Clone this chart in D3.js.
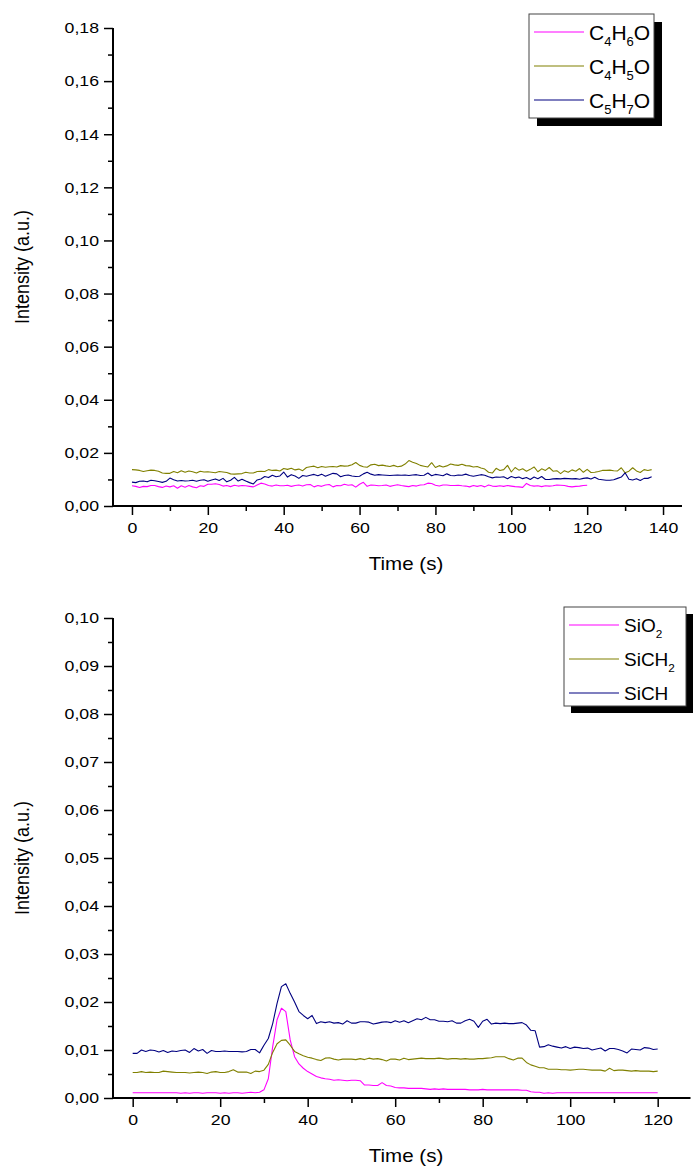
<!DOCTYPE html>
<html>
<head>
<meta charset="utf-8">
<script src="https://cdn.jsdelivr.net/npm/d3@7"></script>
<style>
  html, body { margin: 0; padding: 0; background: #fff; }
  svg { display: block; font-family: "Liberation Sans", Arial, sans-serif; }
</style>
</head>
<body>
<svg id="chart" width="696" height="1171"></svg>
<script>
// ---- Upper panel: C4H6O, C4H5O, C5H7O (1 s sampling) ----
const topC4H6O = [
  .0076,.0074,.0070,.0074,.0073,.0077,.0077,.0073,.0070,.0075,
  .0072,.0076,.0067,.0076,.0071,.0077,.0072,.0069,.0076,.0074,
  .0082,.0082,.0084,.0081,.0075,.0077,.0073,.0078,.0075,.0077,
  .0076,.0074,.0072,.0079,.0086,.0083,.0077,.0075,.0079,.0076,
  .0076,.0078,.0074,.0077,.0079,.0075,.0080,.0081,.0072,.0077,
  .0074,.0079,.0081,.0072,.0077,.0076,.0082,.0078,.0080,.0071,
  .0082,.0089,.0074,.0079,.0078,.0076,.0077,.0079,.0074,.0077,
  .0080,.0077,.0075,.0073,.0077,.0075,.0079,.0080,.0086,.0085,
  .0078,.0075,.0079,.0079,.0077,.0077,.0078,.0076,.0075,.0072,
  .0077,.0074,.0077,.0072,.0079,.0075,.0074,.0076,.0074,.0077,
  .0075,.0073,.0072,.0070,.0085,.0077,.0075,.0076,.0073,.0076,
  .0075,.0076,.0079,.0078,.0077,.0074,.0072,.0074,.0075,.0077,
  .0078
];
const topC4H5O = [
  .0137,.0136,.0134,.0130,.0133,.0135,.0134,.0131,.0124,.0123,
  .0123,.0130,.0125,.0133,.0127,.0132,.0129,.0124,.0131,.0128,
  .0129,.0127,.0125,.0130,.0128,.0126,.0121,.0120,.0121,.0122,
  .0127,.0124,.0124,.0130,.0131,.0130,.0137,.0134,.0135,.0132,
  .0141,.0138,.0142,.0136,.0139,.0133,.0145,.0148,.0150,.0144,
  .0149,.0146,.0148,.0149,.0147,.0152,.0150,.0151,.0155,.0164,
  .0153,.0148,.0146,.0155,.0157,.0152,.0154,.0151,.0149,.0153,
  .0148,.0150,.0158,.0171,.0165,.0160,.0153,.0150,.0147,.0163,
  .0145,.0152,.0147,.0151,.0158,.0155,.0153,.0157,.0152,.0151,
  .0147,.0149,.0143,.0139,.0127,.0124,.0142,.0134,.0137,.0153,
  .0128,.0145,.0135,.0140,.0131,.0138,.0147,.0129,.0140,.0134,
  .0145,.0131,.0133,.0122,.0133,.0127,.0136,.0131,.0141,.0127,
  .0138,.0126,.0127,.0130,.0134,.0134,.0135,.0133,.0132,.0144,
  .0125,.0131,.0144,.0132,.0126,.0137,.0134,.0137
];
const topC5H7O = [
  .0090,.0088,.0093,.0094,.0091,.0097,.0095,.0092,.0089,.0093,
  .0105,.0099,.0094,.0096,.0094,.0095,.0097,.0093,.0097,.0099,
  .0093,.0098,.0102,.0096,.0104,.0091,.0097,.0108,.0094,.0101,
  .0094,.0088,.0083,.0098,.0102,.0111,.0107,.0116,.0110,.0113,
  .0128,.0109,.0118,.0113,.0104,.0115,.0112,.0116,.0119,.0114,
  .0120,.0112,.0118,.0123,.0121,.0110,.0115,.0117,.0113,.0111,
  .0112,.0121,.0127,.0120,.0116,.0118,.0117,.0116,.0115,.0116,
  .0117,.0116,.0117,.0115,.0117,.0118,.0115,.0116,.0124,.0114,
  .0119,.0117,.0114,.0121,.0115,.0114,.0117,.0116,.0120,.0115,
  .0112,.0115,.0118,.0116,.0110,.0106,.0109,.0108,.0110,.0103,
  .0111,.0106,.0109,.0103,.0107,.0100,.0109,.0103,.0111,.0100,
  .0100,.0102,.0103,.0102,.0104,.0103,.0102,.0103,.0101,.0104,
  .0106,.0102,.0108,.0101,.0099,.0097,.0097,.0099,.0104,.0109,
  .0125,.0101,.0098,.0103,.0096,.0104,.0104,.0110
];

// ---- Lower panel: SiO2, SiCH2, SiCH (1 s sampling) ----
const botSiO2 = [
  .0011,.0011,.0011,.0011,.0011,.0011,.0011,.0011,.0011,.0011,
  .0011,.0010,.0011,.0010,.0011,.0011,.0010,.0011,.0011,.0011,
  .0010,.0011,.0010,.0011,.0011,.0010,.0011,.0012,.0011,.0012,
  .0017,.0040,.0107,.0163,.0187,.0180,.0121,.0086,.0071,.0062,
  .0055,.0050,.0045,.0042,.0040,.0039,.0037,.0038,.0037,.0036,
  .0037,.0037,.0036,.0027,.0027,.0026,.0026,.0032,.0026,.0025,
  .0022,.0021,.0021,.0020,.0020,.0020,.0020,.0019,.0018,.0019,
  .0018,.0019,.0018,.0018,.0018,.0018,.0018,.0017,.0017,.0017,
  .0018,.0017,.0017,.0017,.0017,.0017,.0017,.0017,.0017,.0016,
  .0016,.0013,.0012,.0012,.0010,.0011,.0010,.0011,.0011,.0011,
  .0011,.0011,.0011,.0011,.0011,.0011,.0011,.0011,.0011,.0011,
  .0011,.0011,.0011,.0011,.0011,.0011,.0011,.0011,.0011,.0011,
  .0011
];
const botSiCH2 = [
  .0053,.0053,.0055,.0053,.0054,.0053,.0053,.0056,.0055,.0054,
  .0053,.0053,.0053,.0052,.0053,.0054,.0053,.0051,.0054,.0055,
  .0053,.0053,.0055,.0059,.0054,.0054,.0054,.0051,.0056,.0055,
  .0058,.0070,.0095,.0113,.0120,.0121,.0110,.0097,.0092,.0088,
  .0085,.0083,.0080,.0078,.0083,.0084,.0081,.0079,.0081,.0081,
  .0081,.0080,.0082,.0080,.0083,.0081,.0082,.0080,.0077,.0081,
  .0081,.0079,.0083,.0080,.0081,.0082,.0083,.0082,.0082,.0082,
  .0083,.0082,.0081,.0082,.0082,.0081,.0082,.0081,.0081,.0082,
  .0082,.0083,.0084,.0086,.0086,.0086,.0082,.0079,.0083,.0083,
  .0074,.0069,.0066,.0063,.0063,.0060,.0060,.0060,.0059,.0059,
  .0058,.0059,.0060,.0060,.0059,.0058,.0058,.0058,.0056,.0062,
  .0057,.0058,.0058,.0057,.0056,.0057,.0056,.0056,.0056,.0055,
  .0056
];
const botSiCH = [
  .0093,.0093,.0100,.0097,.0100,.0099,.0096,.0099,.0095,.0098,
  .0097,.0099,.0100,.0095,.0103,.0098,.0101,.0093,.0099,.0097,
  .0097,.0098,.0097,.0097,.0097,.0096,.0097,.0101,.0101,.0094,
  .0110,.0124,.0155,.0197,.0232,.0238,.0218,.0200,.0180,.0172,
  .0165,.0172,.0155,.0159,.0157,.0159,.0156,.0157,.0154,.0161,
  .0156,.0156,.0159,.0159,.0158,.0154,.0156,.0158,.0159,.0157,
  .0161,.0158,.0161,.0157,.0161,.0165,.0163,.0168,.0163,.0163,
  .0160,.0160,.0159,.0161,.0156,.0156,.0161,.0164,.0160,.0147,
  .0160,.0164,.0154,.0156,.0155,.0156,.0155,.0155,.0156,.0157,
  .0152,.0141,.0140,.0106,.0107,.0111,.0108,.0106,.0104,.0107,
  .0103,.0106,.0105,.0103,.0104,.0100,.0102,.0104,.0098,.0103,
  .0103,.0101,.0098,.0094,.0102,.0101,.0100,.0105,.0104,.0101,
  .0102
];

// Tick values
const topXTicks = [0, 20, 40, 60, 80, 100, 120, 140];
const topYTicks = [0, 0.02, 0.04, 0.06, 0.08, 0.10, 0.12, 0.14, 0.16, 0.18];
const botXTicks = [0, 20, 40, 60, 80, 100, 120];
const botYTicks = [0, 0.01, 0.02, 0.03, 0.04, 0.05, 0.06, 0.07, 0.08, 0.09, 0.10];

const MAGENTA = "#ff00ff", OLIVE = "#808000", NAVY = "#000080";
const TICK_STRETCH = 1.18;   // axis lettering is a little wider than plain Arial

const svg = d3.select("#chart");
const comma = d3.formatLocale({decimal: ",", thousands: ".", grouping: [3], currency: ["", ""]});
const fmtY = comma.format(".2f");

// widen a text element horizontally about its own anchor point
function stretch(sel, k, ax) {
  sel.attr("transform", function () {
    const x = ax != null ? ax : +(this.getAttribute("x") || 0);
    return `translate(${x},0) scale(${k},1) translate(${-x},0)`;
  });
}

function panel(cfg) {
  const g = svg.append("g");
  const x = d3.scaleLinear().domain(cfg.xDomain).range([cfg.left, cfg.right]);
  const y = d3.scaleLinear().domain(cfg.yDomain).range([cfg.bottom, cfg.top]);

  // series lines
  const line = d3.line().x((d, i) => x(i)).y(d => y(d));
  cfg.series.forEach(s => {
    g.append("path").datum(s.values)
      .attr("fill", "none").attr("stroke", s.color)
      .attr("stroke-width", 1.1).attr("stroke-linejoin", "round")
      .attr("d", line);
  });

  // minor ticks (unlabelled)
  const xMinor = g.append("g").attr("transform", `translate(0,${cfg.bottom})`)
    .call(d3.axisBottom(x).tickValues(cfg.xMinor).tickSize(5));
  const yMinor = g.append("g").attr("transform", `translate(${cfg.left},0)`)
    .call(d3.axisLeft(y).tickValues(cfg.yMinor).tickSize(5));
  [xMinor, yMinor].forEach(a => {
    a.select(".domain").remove();
    a.selectAll("text").remove();
    a.selectAll("line").attr("stroke", "#000").attr("stroke-width", 1.5);
  });

  // major axes
  const xAxis = g.append("g").attr("transform", `translate(0,${cfg.bottom})`)
    .call(d3.axisBottom(x).tickValues(cfg.xTicks).tickSize(9).tickPadding(7).tickFormat(d3.format("d")));
  const yAxis = g.append("g").attr("transform", `translate(${cfg.left},0)`)
    .call(d3.axisLeft(y).tickValues(cfg.yTicks).tickSize(9).tickPadding(5).tickFormat(fmtY));
  [xAxis, yAxis].forEach(a => {
    a.select(".domain").remove();
    a.selectAll("line").attr("stroke", "#000").attr("stroke-width", 1.5);
    a.selectAll("text").attr("fill", "#000").style("font-size", "15px")
      .style("font-family", "'Liberation Sans', Arial, sans-serif");
  });
  stretch(xAxis.selectAll("text"), TICK_STRETCH, 0);
  stretch(yAxis.selectAll("text"), TICK_STRETCH, -14);

  g.append("line").attr("x1", cfg.left).attr("x2", cfg.right)
    .attr("y1", cfg.bottom).attr("y2", cfg.bottom)
    .attr("stroke", "#000").attr("stroke-width", 2);
  g.append("line").attr("x1", cfg.left).attr("x2", cfg.left)
    .attr("y1", cfg.top).attr("y2", cfg.bottom + 1)
    .attr("stroke", "#000").attr("stroke-width", 2);

  // axis titles
  const xt = g.append("text").attr("x", 406).attr("y", cfg.bottom + 64)
    .attr("text-anchor", "middle").style("font-size", "18px").text("Time (s)");
  stretch(xt, 1.14);
  g.append("text")
    .attr("transform", `translate(29,${(cfg.top + cfg.bottom) / 2}) rotate(-90) scale(1,1.12)`)
    .attr("text-anchor", "middle").style("font-size", "18px").text("Intensity (a.u.)");

  // legend with drop shadow
  const L = cfg.legend;
  g.append("rect").attr("x", L.x + L.shadow).attr("y", L.y + L.shadow)
    .attr("width", L.w).attr("height", L.h).attr("fill", "#000");
  g.append("rect").attr("x", L.x).attr("y", L.y)
    .attr("width", L.w).attr("height", L.h)
    .attr("fill", "#fff").attr("stroke", "#444").attr("stroke-width", 1);
  cfg.series.forEach((s, i) => {
    const cy = L.y + L.firstRow + i * L.rowGap;
    g.append("line").attr("x1", L.x + 5).attr("x2", L.x + 55)
      .attr("y1", cy).attr("y2", cy).attr("stroke", s.color).attr("stroke-width", 1.2);
    const t = g.append("text").attr("x", L.x + 60).attr("y", cy + L.fontSize * 0.36)
      .style("font-size", L.fontSize + "px");
    let lowered = false;
    s.label.forEach(part => {
      if (part.sub) {
        t.append("tspan").attr("dy", L.fontSize * 0.3)
          .style("font-size", (L.fontSize * 0.62) + "px").text(part.sub);
        lowered = true;
      } else {
        t.append("tspan").attr("dy", lowered ? -L.fontSize * 0.3 : 0).text(part.t);
        lowered = false;
      }
    });
  });
}

panel({
  left: 113, right: 682, top: 28, bottom: 506,
  xDomain: [-5, 145], yDomain: [0, 0.18],
  xTicks: topXTicks, xMinor: [10, 30, 50, 70, 90, 110, 130],
  yTicks: topYTicks, yMinor: [0.01, 0.03, 0.05, 0.07, 0.09, 0.11, 0.13, 0.15, 0.17],
  series: [
    {values: topC4H6O, color: MAGENTA, label: [{t: "C"}, {sub: "4"}, {t: "H"}, {sub: "6"}, {t: "O"}]},
    {values: topC4H5O, color: OLIVE, label: [{t: "C"}, {sub: "4"}, {t: "H"}, {sub: "5"}, {t: "O"}]},
    {values: topC5H7O, color: NAVY, label: [{t: "C"}, {sub: "5"}, {t: "H"}, {sub: "7"}, {t: "O"}]}
  ],
  legend: {x: 529, y: 14, w: 125, h: 104, shadow: 8, firstRow: 18, rowGap: 34, fontSize: 21}
});

panel({
  left: 113, right: 690.5, top: 618, bottom: 1098,
  xDomain: [-4.5, 127.5], yDomain: [0, 0.10],
  xTicks: botXTicks, xMinor: [10, 30, 50, 70, 90, 110],
  yTicks: botYTicks, yMinor: [0.005, 0.015, 0.025, 0.035, 0.045, 0.055, 0.065, 0.075, 0.085, 0.095],
  series: [
    {values: botSiO2, color: MAGENTA, label: [{t: "SiO"}, {sub: "2"}]},
    {values: botSiCH2, color: OLIVE, label: [{t: "SiCH"}, {sub: "2"}]},
    {values: botSiCH, color: NAVY, label: [{t: "SiCH"}]}
  ],
  legend: {x: 564, y: 607, w: 122, h: 99, shadow: 7, firstRow: 18, rowGap: 34, fontSize: 19}
});
</script>
</body>
</html>
